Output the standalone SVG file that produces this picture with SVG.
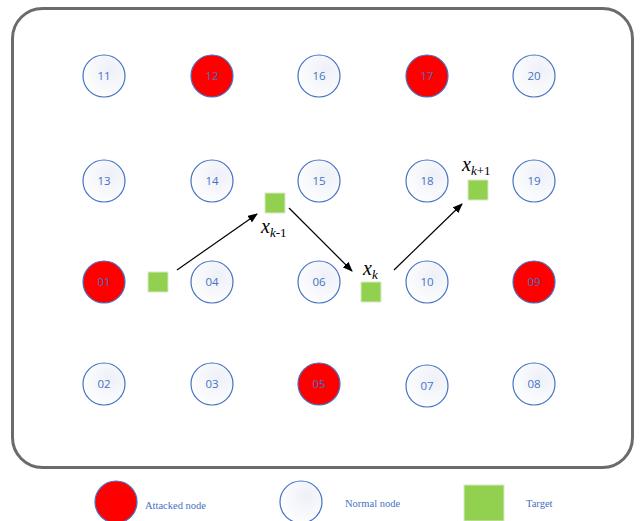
<svg xmlns="http://www.w3.org/2000/svg" width="641" height="521" viewBox="0 0 641 521">
<defs>
<radialGradient id="ng" cx="0.65" cy="0.35" r="0.75">
<stop offset="0" stop-color="#eef0f8"/>
<stop offset="1" stop-color="#ffffff"/>
</radialGradient>
<marker id="ah" markerWidth="10" markerHeight="8" refX="9" refY="4" orient="auto" markerUnits="userSpaceOnUse">
<path d="M0,0 L10,4 L0,8 z" fill="#000"/>
</marker>
</defs>
<style>
.n{fill:url(#ng);stroke:#4472c4;stroke-width:1.2}
.a{fill:#ff0000;stroke:#4472c4;stroke-width:1.2}
.t{font-family:"Open Sans","DejaVu Sans",sans-serif;font-size:11.5px;fill:#4472c4;text-anchor:middle}
.sq{fill:#92d050;stroke:#d9e8c8;stroke-width:1}
.c{stroke:#000;stroke-width:1.2;fill:none;marker-end:url(#ah)}
.lb{font-family:"Liberation Serif",serif;font-style:italic;font-size:20px;fill:#000}
.lbs{font-family:"Liberation Serif",serif;font-style:italic;font-size:13px}
.up{font-style:normal}
.lg{font-family:"Liberation Serif",serif;font-size:10.5px;fill:#4472c4}
</style>
<rect x="0" y="0" width="641" height="521" fill="#fff"/>
<rect x="12.5" y="8.5" width="620" height="459" rx="30" fill="#fff" stroke="#6b6b6b" stroke-width="3"/>

<g id="n11"><circle class="n" cx="104" cy="76" r="21"/><text class="t" x="104" y="80">11</text></g>
<g id="n12"><circle class="a" cx="212" cy="76" r="21"/><text class="t" x="212" y="80">12</text></g>
<g id="n16"><circle class="n" cx="319" cy="76" r="21"/><text class="t" x="319" y="80">16</text></g>
<g id="n17"><circle class="a" cx="427" cy="76" r="21"/><text class="t" x="427" y="80">17</text></g>
<g id="n20"><circle class="n" cx="534" cy="76" r="21"/><text class="t" x="534" y="80">20</text></g>

<g id="n13"><circle class="n" cx="104" cy="181" r="21"/><text class="t" x="104" y="185">13</text></g>
<g id="n14"><circle class="n" cx="212" cy="181" r="21"/><text class="t" x="212" y="185">14</text></g>
<g id="n15"><circle class="n" cx="319" cy="181" r="21"/><text class="t" x="319" y="185">15</text></g>
<g id="n18"><circle class="n" cx="427" cy="181" r="21"/><text class="t" x="427" y="185">18</text></g>
<g id="n19"><circle class="n" cx="534" cy="181" r="21"/><text class="t" x="534" y="185">19</text></g>

<g id="n01"><circle class="a" cx="104" cy="282" r="21"/><text class="t" x="104" y="286">01</text></g>
<g id="n04"><circle class="n" cx="212" cy="282" r="21"/><text class="t" x="212" y="286">04</text></g>
<g id="n06"><circle class="n" cx="319" cy="282" r="21"/><text class="t" x="319" y="286">06</text></g>
<g id="n10"><circle class="n" cx="427" cy="282" r="21"/><text class="t" x="427" y="286">10</text></g>
<g id="n09"><circle class="a" cx="534" cy="282" r="21"/><text class="t" x="534" y="286">09</text></g>

<g id="n02"><circle class="n" cx="104" cy="384" r="21"/><text class="t" x="104" y="388">02</text></g>
<g id="n03"><circle class="n" cx="212" cy="384" r="21"/><text class="t" x="212" y="388">03</text></g>
<g id="n05"><circle class="a" cx="319" cy="384" r="21"/><text class="t" x="319" y="388">05</text></g>
<g id="n07"><circle class="n" cx="427" cy="386" r="21"/><text class="t" x="427" y="390">07</text></g>
<g id="n08"><circle class="n" cx="534" cy="384" r="21"/><text class="t" x="534" y="388">08</text></g>

<g id="target0"><rect class="sq" x="148" y="272" width="20" height="20"/></g>
<g id="target1"><rect class="sq" x="265" y="193" width="20" height="20"/>
<text class="lb" x="261" y="233">x<tspan class="lbs" dy="4">k</tspan><tspan class="lbs up">-1</tspan></text></g>
<g id="target2"><rect class="sq" x="361" y="282" width="20" height="20"/>
<text class="lb" x="363" y="275">x<tspan class="lbs" dy="4">k</tspan></text></g>
<g id="target3"><rect class="sq" x="468" y="180" width="20" height="20"/>
<text class="lb" x="462" y="171">x<tspan class="lbs" dy="4">k</tspan><tspan class="lbs up">+1</tspan></text></g>

<g id="connectors">
<line class="c" x1="177" y1="270" x2="257" y2="214"/>
<line class="c" x1="289" y1="208" x2="352" y2="271"/>
<line class="c" x1="394" y1="270" x2="462" y2="204"/>
</g>

<g id="legend">
<circle cx="116" cy="502" r="21" fill="#ff0000" stroke="#4472c4" stroke-width="1.2"/>
<text class="lg" x="145" y="509">Attacked node</text>
<circle class="n" cx="301" cy="502" r="21"/>
<text class="lg" x="345" y="507">Normal node</text>
<rect class="sq" x="464" y="485" width="40" height="36"/>
<text class="lg" x="526" y="507">Target</text>
</g>
</svg>
